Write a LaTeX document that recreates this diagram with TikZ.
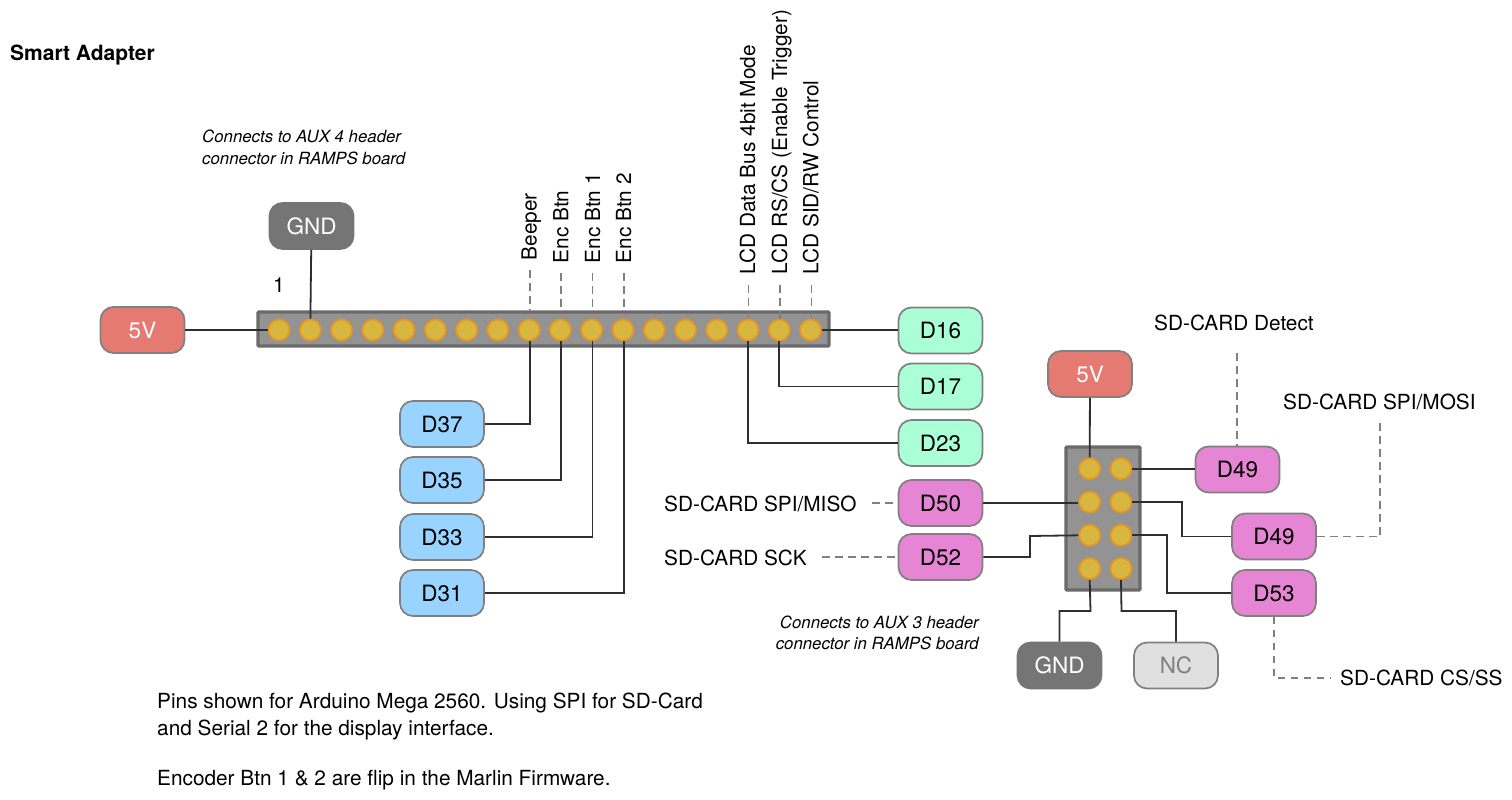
\documentclass[tikz,border=0pt]{standalone}
\usepackage{fontspec}
\setmainfont{TeX Gyre Heros}
\definecolor{redf}{HTML}{E57A73}
\definecolor{gndf}{HTML}{757575}
\definecolor{ncf}{HTML}{E0E0E0}
\definecolor{bluef}{HTML}{99D3FF}
\definecolor{greenf}{HTML}{AAFFD6}
\definecolor{pinkf}{HTML}{E585D3}
\definecolor{pinf}{HTML}{D8B740}
\definecolor{pinb}{HTML}{E8961E}
\definecolor{hdrf}{HTML}{939393}
\definecolor{hdrb}{HTML}{6A6A6A}
\definecolor{bord}{HTML}{808080}
\definecolor{wire}{HTML}{2E2E2E}
\definecolor{dashc}{HTML}{808080}
\tikzset{
  tag/.style={draw=bord,line width=1.7pt,rounded corners=13pt,minimum width=84pt,minimum height=46pt,inner sep=0pt,font=\fontsize{22.5}{24}\selectfont,text=black},
  redtag/.style={tag,fill=redf,text=white},
  gndtag/.style={tag,fill=gndf,draw=gndf,text=white},
  nctag/.style={tag,fill=ncf,text=bord},
  bluetag/.style={tag,fill=bluef},
  greentag/.style={tag,fill=greenf},
  pinktag/.style={tag,fill=pinkf},
  hdr/.style={draw=hdrb,fill=hdrf,line width=3.4pt,inner sep=0pt,rounded corners=1pt},
  pin/.style={circle,draw=pinb,fill=pinf,line width=1.7pt,minimum size=21pt,inner sep=0pt},
  wired/.style={draw=wire,line width=1.8pt},
  dashw/.style={draw=dashc,line width=1.8pt,dash pattern=on 7.5pt off 5.5pt},
  lab/.style={inner sep=0pt,anchor=base west,font=\fontsize{20.8}{22}\selectfont,text=black},
  vlab/.style={lab,rotate=90},
  note/.style={inner sep=0pt,anchor=base west,font=\itshape\fontsize{16.8}{18}\selectfont,text=black},
  noter/.style={note,anchor=base east}
}
\begin{document}
\begin{tikzpicture}[x=1pt,y=-1pt]
\useasboundingbox (0,0) rectangle (1512,800);
\fill[white] (0,0) rectangle (1512,800);
% headers
\node[hdr,minimum width=571pt,minimum height=34pt] (h1) at (543.5,329) {};
\node[hdr,minimum width=74pt,minimum height=143pt] (h2) at (1103,518.5) {};
% pins
\foreach \i in {1,...,18} { \node[pin] (p\i) at ({279+(\i-1)*31.27},330) {}; }
\node[pin] (q1) at (1089.7,468.7) {};
\node[pin] (q2) at (1121,468.7) {};
\node[pin] (q3) at (1089.7,502) {};
\node[pin] (q4) at (1121,502) {};
\node[pin] (q5) at (1089.7,535.3) {};
\node[pin] (q6) at (1121,535.3) {};
\node[pin] (q7) at (1089.7,568.5) {};
\node[pin] (q8) at (1121,568.5) {};
% tags
\node[redtag] (v5a) at (142.5,330) {5V};
\node[gndtag] (gnda) at (311.5,226) {GND};
\node[bluetag] (d37) at (442,424) {D37};
\node[bluetag] (d35) at (442,480) {D35};
\node[bluetag] (d33) at (442,537) {D33};
\node[bluetag] (d31) at (442,593) {D31};
\node[greentag] (d16) at (940.5,330.5) {D16};
\node[greentag] (d17) at (940.5,386.5) {D17};
\node[greentag] (d23) at (940.5,443) {D23};
\node[redtag] (v5b) at (1090,374) {5V};
\node[pinktag] (d49a) at (1237.5,469.5) {D49};
\node[pinktag] (d50) at (940.5,503) {D50};
\node[pinktag] (d52) at (940.5,557) {D52};
\node[pinktag] (d49b) at (1274,536.5) {D49};
\node[pinktag] (d53) at (1274,593) {D53};
\node[gndtag] (gndb) at (1059.5,665.5) {GND};
\node[nctag] (nc) at (1176,665.5) {NC};
% text
\node[inner sep=0pt,anchor=base west,font=\bfseries\fontsize{21}{22}\selectfont] (title) at (10,60) {Smart Adapter};
\node[note] (n1) at (202,142) {Connects to AUX 4 header};
\node[note] (n2) at (202,164) {connector in RAMPS board};
\node[noter] (n3) at (979,628) {Connects to AUX 3 header};
\node[noter] (n4) at (979,649.3) {connector in RAMPS board};
\node[lab] (one) at (273,292.7) {1};
\node[lab] (t1) at (157,708.7) {Pins shown for Arduino Mega 2560. Using SPI for SD-Card};
\node[lab] (t2) at (157,735) {and Serial 2 for the display interface.};
\node[lab] (t3) at (157,785) {Encoder Btn 1 \& 2 are flip in the Marlin Firmware.};
\node[vlab] (lb) at (536.7,260.5) {Beeper};
\node[vlab] (le) at (568.3,263.5) {Enc Btn};
\node[vlab] (le1) at (600,263.5) {Enc Btn 1};
\node[vlab] (le2) at (631,263.5) {Enc Btn 2};
\node[vlab] (ld) at (755,274.5) {LCD Data Bus 4bit Mode};
\node[vlab] (lr) at (787,274.5) {LCD RS/CS (Enable Trigger)};
\node[vlab] (ls) at (818.3,274.5) {LCD SID/RW Control};
\node[lab] (sd1) at (1154,330) {SD-CARD Detect};
\node[lab] (sd2) at (1283,409) {SD-CARD SPI/MOSI};
\node[lab] (sd3) at (664,511) {SD-CARD SPI/MISO};
\node[lab] (sd4) at (664,565) {SD-CARD SCK};
\node[lab] (sd5) at (1340,685.7) {SD-CARD CS/SS};
% free ends of dashed lines
\coordinate (c1) at (530,270);
\coordinate (c2) at (561,273);
\coordinate (c3) at (592.5,273);
\coordinate (c4) at (624,273);
\coordinate (c5) at (748.5,285);
\coordinate (c6) at (780,285);
\coordinate (c7) at (811.5,285);
\coordinate (c8) at (1236.7,353);
\coordinate (c9) at (1380,423);
\coordinate (c10) at (872,503);
\coordinate (c11) at (822,557);
\coordinate (c12) at (1330,678);
% wires
\draw[wired] (v5a) -- (p1);
\draw[wired] (gnda) -- (p2);
\draw[wired] ([xshift=.7pt]p9.south) |- (d37.east);
\draw[wired] ([xshift=.7pt]p10.south) |- (d35.east);
\draw[wired] ([xshift=.7pt]p11.south) |- (d33.east);
\draw[wired] ([xshift=.7pt]p12.south) |- (d31.east);
\draw[wired] (p18) -- (p18 -| d16.west);
\draw[wired] (p17.south) |- (d17.west);
\draw[wired] (p16.south) |- (d23.west);
\draw[wired] (v5b) -- (q1);
\draw[wired] (q2.east) -- (d49a.west |- q2);
\draw[wired] (d50.east) -- (q3.west |- d50);
\draw[wired] (d52.east) -- (1030,557) -- (1030,536) -- (q5.west);
\draw[wired] (q4.east) -- (1182,502) -- (1182,536.5) -- (d49b.west);
\draw[wired] (q6.east) -- (1167,535.3) -- (1167,593) -- (d53.west);
\draw[wired] (q7.south) -- (1090.5,611) -- (1059.5,611) -- (gndb.north);
\draw[wired] (q8.south) -- (1121.5,611) -- (1176,611) -- (nc.north);
% dashed
\draw[dashw] (c1) -- (c1 |- h1.north);
\draw[dashw] (c2) -- (c2 |- h1.north);
\draw[dashw] (c3) -- (c3 |- h1.north);
\draw[dashw] (c4) -- (c4 |- h1.north);
\draw[dashw] (c5) -- (c5 |- p16.north);
\draw[dashw] (c6) -- (c6 |- p17.north);
\draw[dashw] (c7) -- (c7 |- p18.north);
\draw[dashw] (c8) -- (c8 |- d49a.north);
\draw[dashw] (c9) -- (1380,536.5) -- (d49b.east);
\draw[dashw] (c10) -- (d50.west);
\draw[dashw] (c11) -- (d52.west);
\draw[dashw] (d53.south) -- (1274,678) -- (c12);
\end{tikzpicture}
\end{document}
